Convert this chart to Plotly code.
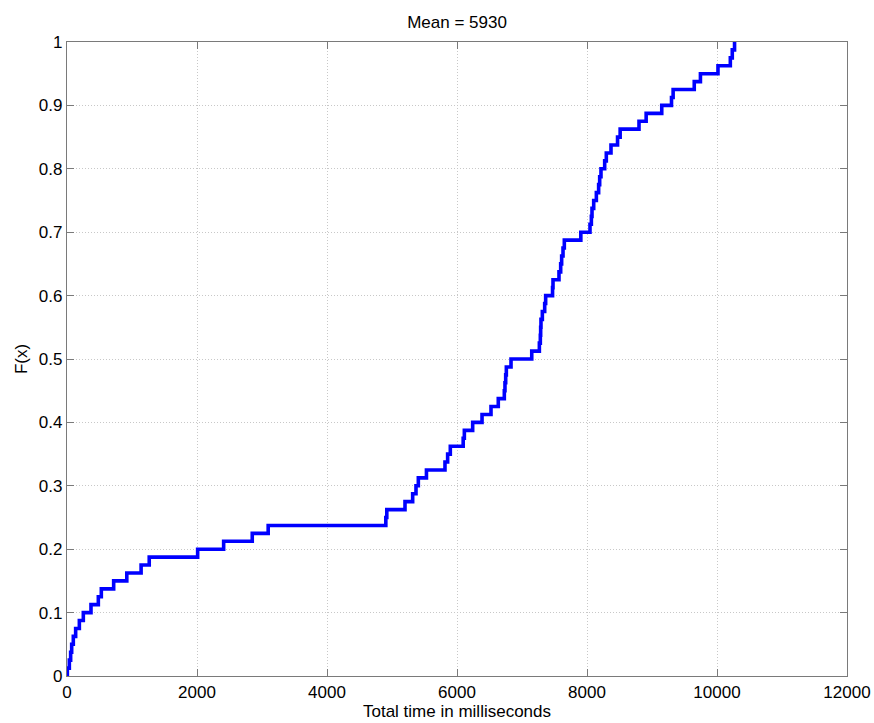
import numpy as np
import plotly.graph_objects as go

# Sorted sample of total times (ms), 80 observations
total_time_ms = [
    5, 36, 56, 72, 97, 133, 190, 251, 369, 482,
    528, 718, 920, 1140, 1265, 2010, 2410, 2850, 3095, 4905,
    4920, 5200, 5318, 5369, 5405, 5530, 5815, 5856, 5897, 6095,
    6113, 6241, 6385, 6523, 6635, 6728, 6738, 6749, 6759, 6831,
    7150, 7267, 7282, 7287, 7292, 7313, 7349, 7364, 7470, 7477,
    7569, 7595, 7610, 7631, 7651, 7905, 8046, 8067, 8077, 8103,
    8144, 8179, 8195, 8215, 8272, 8297, 8369, 8470, 8510, 8800,
    8910, 9150, 9300, 9325, 9650, 9745, 10015, 10205, 10235, 10270,
]

x_ticks = [0, 2000, 4000, 6000, 8000, 10000, 12000]
y_ticks = [0, 0.1, 0.2, 0.3, 0.4, 0.5, 0.6, 0.7, 0.8, 0.9, 1]

t = np.sort(np.array(total_time_ms, dtype=float))
n = len(t)
F = np.arange(1, n + 1) / n

# empirical CDF as a staircase starting from F = 0
xs = np.concatenate([[t[0]], t])
ys = np.concatenate([[0.0], F])

font_family = "Liberation Sans, Arial, sans-serif"
axis_color = "#7a7a7a"
grid_color = "#c8c8c8"

fig = go.Figure()
fig.add_trace(go.Scatter(
    x=xs, y=ys, mode="lines", line_shape="hv",
    line=dict(color="#0000ff", width=3.6),
    showlegend=False, hoverinfo="x+y",
))

axis_common = dict(
    showline=True, linecolor=axis_color, linewidth=1.3, mirror="ticks",
    ticks="inside", ticklen=7, tickwidth=1, tickcolor=axis_color,
    showgrid=True, gridcolor=grid_color, griddash="1px,2px", gridwidth=1,
    zeroline=False,
    tickfont=dict(family=font_family, size=17, color="#000000"),
)

fig.update_layout(
    width=874, height=723,
    margin=dict(l=67, r=27, t=42, b=47),
    paper_bgcolor="white", plot_bgcolor="white",
    title=dict(
        text=f"Mean = {np.mean(t):.0f}",
        x=0.5, xanchor="center", xref="paper",
        y=1 - 22 / 723, yanchor="middle", yref="container",
        font=dict(family=font_family, size=17, color="#000000"),
    ),
    xaxis=dict(
        range=[0, 12000], tickvals=x_ticks, tickformat="d",
        title=dict(text="Total time in milliseconds", standoff=2,
                   font=dict(family=font_family, size=17, color="#000000")),
        automargin=False,
        **axis_common,
    ),
    yaxis=dict(
        range=[0, 1], tickvals=y_ticks,
        title=dict(text="F(x)", standoff=6,
                   font=dict(family=font_family, size=17, color="#000000")),
        automargin=False,
        **axis_common,
    ),
)

fig.write_html("out.html")
